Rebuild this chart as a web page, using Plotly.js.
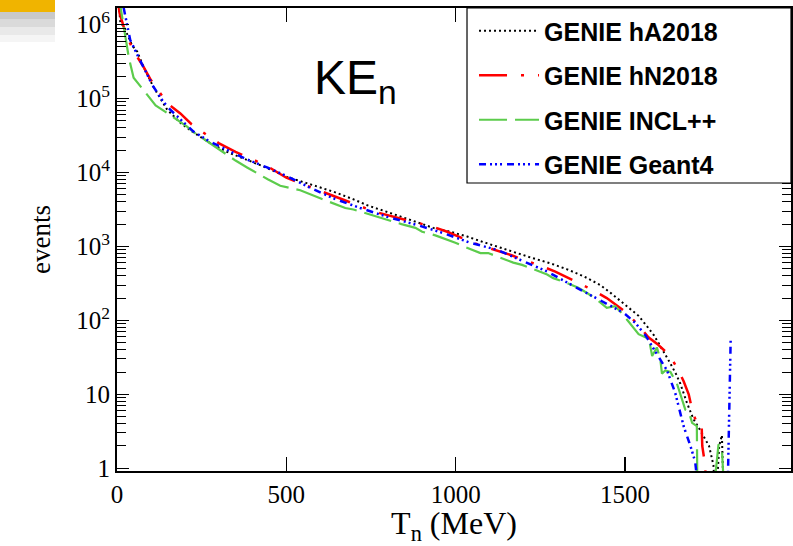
<!DOCTYPE html>
<html>
<head>
<meta charset="utf-8">
<script src="https://cdn.plot.ly/plotly-3.0.1.min.js"></script>
<style>html,body{margin:0;padding:0;background:#fff;}#chart{width:793px;height:546px;}</style>
</head>
<body>
<div id="chart"></div>
<script>
// ---- data (T_n in MeV, events) ----
const seriesNames = ["GENIE hA2018", "GENIE hN2018", "GENIE INCL++", "GENIE Geant4"];

const hA_T = [3,10,20,33,45,60,78,107,148,187,225,275,325,384,443,502,541,600,639,700,739,800,836,900,934,984,1034,1080,1132,1180,1229,1280,1329,1380,1427,1460,1506,1540,1565,1585,1604,1620,1634,1650,1663,1683,1702,1718,1732,1748,1761,1768,1778,1786,1792];
const hA_N = [2.5e6,1.05e6,9.5e5,6.8e5,5.2e5,4.3e5,2.7e5,1.45e5,7.1e4,4.7e4,3.5e4,2.5e4,1.9e4,1.48e4,1.15e4,8700,7600,6200,5500,4300,3600,2900,2540,2000,1780,1580,1360,1150,955,810,690,590,490,390,300,230,155,115,83,63,45,34,26,19,14,7.6,4.6,3.5,2.7,2.0,1.1,0.3,2.0,2.8,0.3];

const hN_T = [3,8,20,30,50,78,100,122,150,187,220,252,300,350,400,450,500,550,600,639,680,718,760,801,850,886,930,975,1010,1052,1090,1132,1165,1199,1250,1294,1330,1362,1400,1446,1475,1506,1540,1569,1595,1619,1640,1658,1673,1688,1700,1712,1726,1728,1735,1745];
const hN_N = [2.0e6,1.41e6,9.3e5,6.8e5,4.3e5,2.7e5,1.78e5,1.29e5,8.5e4,6.3e4,4.5e4,3.55e4,2.5e4,1.9e4,1.51e4,1.17e4,8500,6900,5600,4800,4100,3500,2950,2600,2290,2090,1860,1580,1350,1120,980,850,760,660,550,457,380,320,263,200,158,126,85,59,48,38,29,21,15,10,5.6,4.1,4.1,2.0,1.23,0.3];

const incl_T = [3,12,18,25,35,49,69,90,114,143,175,207,225,260,290,315,350,384,409,445,482,541,600,674,698,740,777,801,840,881,901,940,978,999,1035,1073,1096,1130,1170,1196,1230,1270,1288,1325,1362,1388,1420,1446,1471,1490,1506,1525,1540,1560,1571,1580,1594,1604,1609,1619,1634,1653,1678,1688,1698,1712,1714,1757,1776,1786,1795];
const incl_N = [2.8e6,1.55e6,1.05e6,6.9e5,3.55e5,1.91e5,1.45e5,1.1e5,8.1e4,6.6e4,5.25e4,4.17e4,3.55e4,2.75e4,2.24e4,1.82e4,1.45e4,1.17e4,1.0e4,8100,6600,5750,4470,3310,3160,2750,2450,2290,2000,1780,1580,1410,1230,1120,955,813,813,708,603,562,490,417,372,324,275,234,186,148,155,126,102,79,65,59,55,33,43,30,19,21,20,14,6.2,5.9,4.1,3.7,0.3,0.3,2.1,1.8,0.3];

const g4_T = [3,22,39,59,80,105,130,150,187,225,275,325,384,443,502,571,639,718,798,886,964,1043,1122,1200,1270,1350,1407,1450,1496,1530,1560,1594,1624,1648,1673,1693,1707,1722,1802,1812];
const g4_N = [4.0e6,1.58e6,6.2e5,4.0e5,2.6e5,1.51e5,1.0e5,7.6e4,5.25e4,3.6e4,2.6e4,2.0e4,1.5e4,1.17e4,8900,6200,4470,3310,2510,1950,1510,1120,900,630,457,288,209,166,126,93,63,35,21,10.5,3.7,2.0,1.23,0.3,0.3,58];

const xTickVals = [0, 500, 1000, 1500];
const yTickVals = [1, 10, 100, 1000, 10000, 100000, 1000000];
const yTickText = ["1", "10", "10<sup>2</sup>", "10<sup>3</sup>", "10<sup>4</sup>", "10<sup>5</sup>", "10<sup>6</sup>"];

// minor tick positions for log axis
const yMinor = [];
for (let e = 0; e < 7; e++) for (let m = 2; m <= 9; m++) yMinor.push(m * Math.pow(10, e));

const traces = [
  {x: hA_T, y: hA_N, name: seriesNames[0], legendgroup: "a",
   line: {color: "#000000", width: 2, dash: "2px,3px"}},
  {x: hN_T, y: hN_N, name: seriesNames[1], legendgroup: "b",
   line: {color: "#ff0000", width: 2.5, dash: "28px,14px,3px,14px"}},
  {x: incl_T, y: incl_N, name: seriesNames[2], legendgroup: "c",
   line: {color: "#5ccc4c", width: 2.2, dash: "28px,8px"}},
  {x: g4_T, y: g4_N, name: seriesNames[3], legendgroup: "d",
   line: {color: "#0000ff", width: 2.5, dash: "7px,4px,2px,3px,2px,3px,2px,5px"}}
].map(t => Object.assign({type: "scatter", mode: "lines"}, t));

const serif = "Liberation Serif, Times New Roman, serif";

const layout = {
  width: 793, height: 546,
  margin: {l: 117, r: 2, t: 8, b: 75},
  paper_bgcolor: "#fff", plot_bgcolor: "#fff",
  showlegend: true,
  legend: {
    x: 0.5297, y: 1, xanchor: "left", yanchor: "top",
    bgcolor: "rgba(0,0,0,0)", borderwidth: 0,
    font: {family: "Liberation Sans, Arial, sans-serif", size: 25, color: "#000", weight: "bold"},
    tracegroupgap: 9, itemwidth: 60
  },
  xaxis: {
    range: [0, 1990],
    tickmode: "array", tickvals: xTickVals,
    ticks: "inside", ticklen: 14, tickwidth: 1.2, tickcolor: "#000",
    showline: true, linewidth: 2, linecolor: "#000", mirror: "ticks",
    showgrid: false, zeroline: false,
    tickfont: {family: serif, size: 25, color: "#000"},
    title: {text: "T<sub>n</sub> (MeV)", font: {family: serif, size: 32, color: "#000"}, standoff: 0}
  },
  yaxis: {
    type: "log", range: [-0.038, 6.225],
    tickmode: "array", tickvals: yTickVals, ticktext: yTickText,
    ticks: "inside", ticklen: 12, tickwidth: 1.2, tickcolor: "#000",
    minor: {ticks: "inside", ticklen: 9, tickwidth: 1, tickcolor: "#000", tickmode: "array", tickvals: yMinor},
    showline: true, linewidth: 2, linecolor: "#000", mirror: "ticks",
    showgrid: false, zeroline: false,
    tickfont: {family: serif, size: 25, color: "#000"},
    title: {text: "events", font: {family: serif, size: 27, color: "#000"}, standoff: 18}
  },
  annotations: [{
    text: "KE<sub>n</sub>", xref: "paper", yref: "paper",
    x: 0.289, y: 0.842, xanchor: "left", yanchor: "middle", showarrow: false,
    font: {family: "Liberation Sans, Arial, sans-serif", size: 48, color: "#000"}
  }],
  shapes: [
    // legend box
    {type: "rect", xref: "paper", yref: "paper", layer: "above",
     x0: 0.5193, x1: 1, y0: 0.622, y1: 1, line: {width: 1.2, color: "#000"}, fillcolor: "#fff"},
    // top-left decoration
    {type: "rect", xref: "paper", yref: "paper", xsizemode: "pixel", ysizemode: "pixel",
     xanchor: 0, yanchor: 1, x0: -117, x1: -62, y0: 8, y1: -4, line: {width: 0}, fillcolor: "#f0b400"},
    {type: "rect", xref: "paper", yref: "paper", xsizemode: "pixel", ysizemode: "pixel",
     xanchor: 0, yanchor: 1, x0: -117, x1: -62, y0: -4, y1: -11, line: {width: 0}, fillcolor: "#c9c9c9"},
    {type: "rect", xref: "paper", yref: "paper", xsizemode: "pixel", ysizemode: "pixel",
     xanchor: 0, yanchor: 1, x0: -117, x1: -62, y0: -11, y1: -19, line: {width: 0}, fillcolor: "#dadada"},
    {type: "rect", xref: "paper", yref: "paper", xsizemode: "pixel", ysizemode: "pixel",
     xanchor: 0, yanchor: 1, x0: -117, x1: -62, y0: -19, y1: -27, line: {width: 0}, fillcolor: "#e9e9e9"},
    {type: "rect", xref: "paper", yref: "paper", xsizemode: "pixel", ysizemode: "pixel",
     xanchor: 0, yanchor: 1, x0: -117, x1: -62, y0: -27, y1: -34, line: {width: 0}, fillcolor: "#f5f5f5"}
  ]
};

Plotly.newPlot("chart", traces, layout, {displayModeBar: false, staticPlot: true});
</script>
</body>
</html>
